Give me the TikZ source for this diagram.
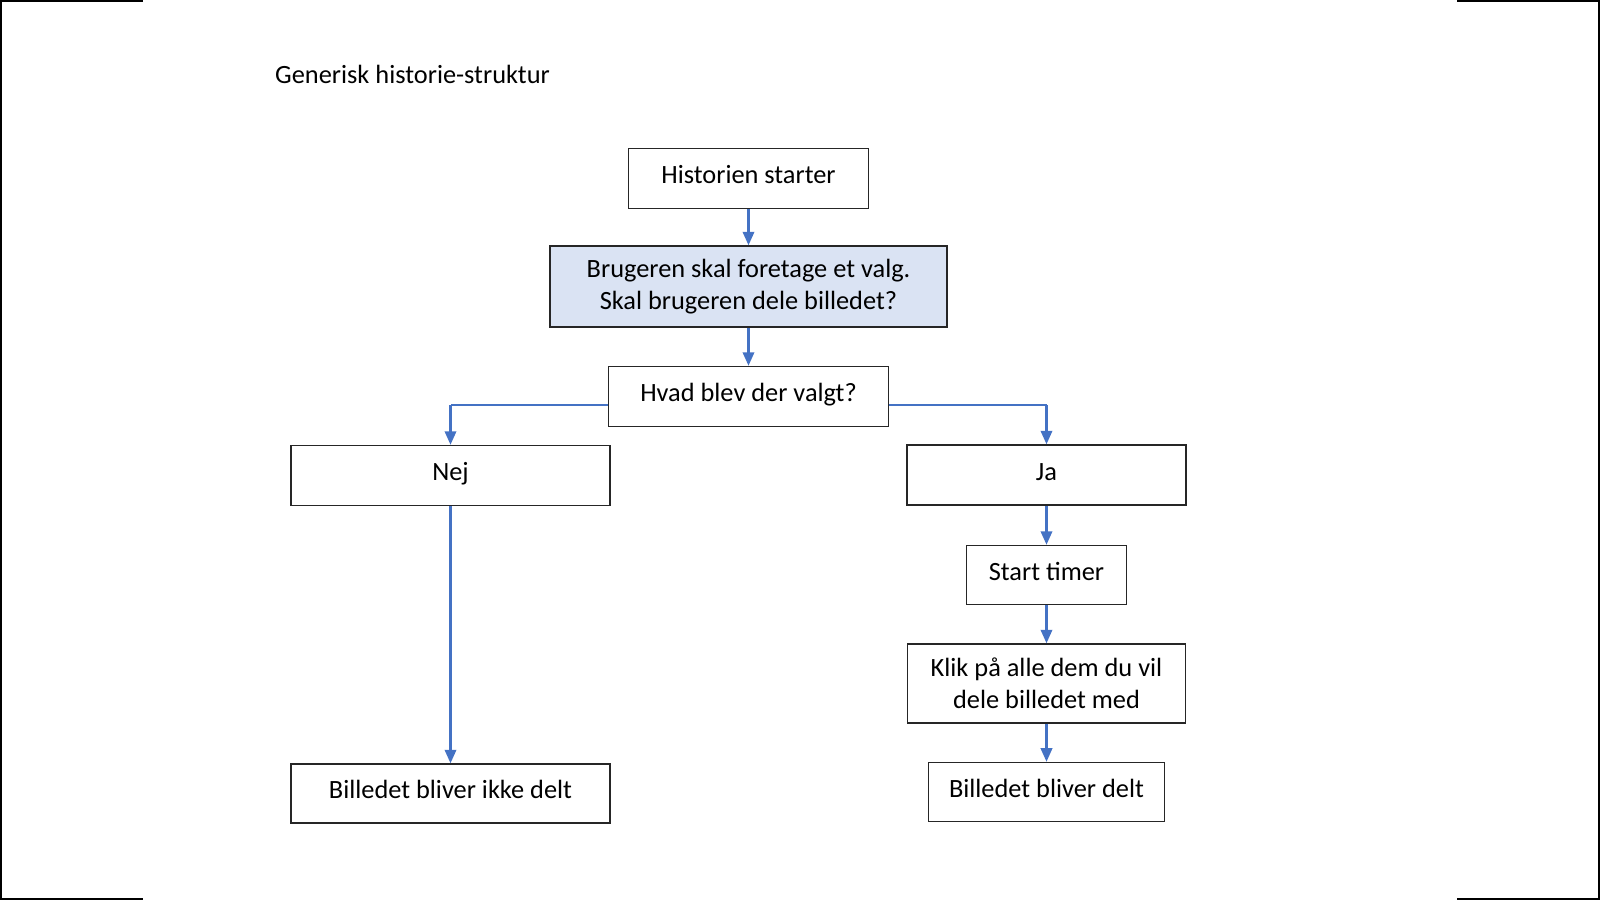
\documentclass[tikz,border=0pt]{standalone}
\usepackage{fontspec}
\setmainfont{Carlito}
\usepackage{tikz}
\usetikzlibrary{arrows.meta, positioning}
\definecolor{flowblue}{HTML}{4472C4}
\definecolor{choicefill}{HTML}{DAE3F3}
\definecolor{boxline}{HTML}{262626}

\begin{document}
\begin{tikzpicture}[
    node distance=0.75cm and 2cm,
    box/.style={rectangle, draw=boxline, line width=0.85pt, fill=white, align=center, inner sep=0pt, font=\fontsize{15}{18}\selectfont},
    oneline/.style={box, text height=10.5pt, text depth=4.8pt},
    arrow/.style={-{Triangle[length=0.27cm, width=0.23cm]}, line width=1.2pt, draw=flowblue},
    branch/.style={line width=0.7pt, draw=flowblue},
    frame/.style={line width=1.2pt, draw=black}
]
\useasboundingbox (0,0) rectangle (32,-18);
% slide frame
\draw[frame] (0.02,0) -- (0.02,-18);
\draw[frame] (31.98,0) -- (31.98,-18);
\draw[frame] (0,-0.02) -- (2.86,-0.02);
\draw[frame] (29.14,-0.02) -- (32,-0.02);
\draw[frame] (0,-17.98) -- (2.86,-17.98);
\draw[frame] (29.14,-17.98) -- (32,-17.98);

\node[anchor=west, font=\fontsize{15}{18}\selectfont] (title) at (5.38,-1.49) {Generisk historie-struktur};

\node[oneline, minimum width=4.8cm, minimum height=1.2cm] (start) at (14.97,-3.57) {Historien starter};
\node[box, fill=choicefill, minimum width=7.94cm, minimum height=1.62cm, below=0.74cm of start, yshift=0.02cm] (choice) {Brugeren skal foretage et valg.\\Skal brugeren dele billedet?};
\node[oneline, minimum width=5.6cm, minimum height=1.2cm, below=0.76cm of choice] (ask) {Hvad blev der valgt?};
\node[oneline, minimum width=6.38cm, minimum height=1.2cm] (nej) at (9.01,-9.51) {Nej};
\node[oneline, minimum width=5.58cm, minimum height=1.2cm] (ja) at (20.93,-9.5) {Ja};
\node[oneline, minimum width=3.2cm, minimum height=1.18cm, below=0.78cm of ja] (timer) {Start timer};
\node[box, minimum width=5.56cm, minimum height=1.58cm, below=0.76cm of timer] (klik) {Klik på alle dem du vil\\dele billedet med};
\node[oneline, minimum width=4.72cm, minimum height=1.18cm, below=0.76cm of klik] (delt) {Billedet bliver delt};
\node[oneline, minimum width=6.38cm, minimum height=1.18cm, below=5.14cm of nej] (ikke) {Billedet bliver ikke delt};

\coordinate[yshift=-0.17cm] (nejturn) at (nej.north |- ask.west);
\coordinate[yshift=-0.17cm] (jaturn) at (ja.north |- ask.east);

\draw[arrow] (start) -- (choice);
\draw[arrow] (choice) -- (ask);
\draw[branch] ([yshift=-0.17cm]ask.west) -- (nejturn);
\draw[arrow] (nejturn) -- (nej);
\draw[branch] ([yshift=-0.17cm]ask.east) -- (jaturn);
\draw[arrow] (jaturn) -- (ja);
\draw[arrow] (ja) -- (timer);
\draw[arrow] (timer) -- (klik);
\draw[arrow] (klik) -- (delt);
\draw[arrow] (nej) -- (ikke);
\end{tikzpicture}
\end{document}
